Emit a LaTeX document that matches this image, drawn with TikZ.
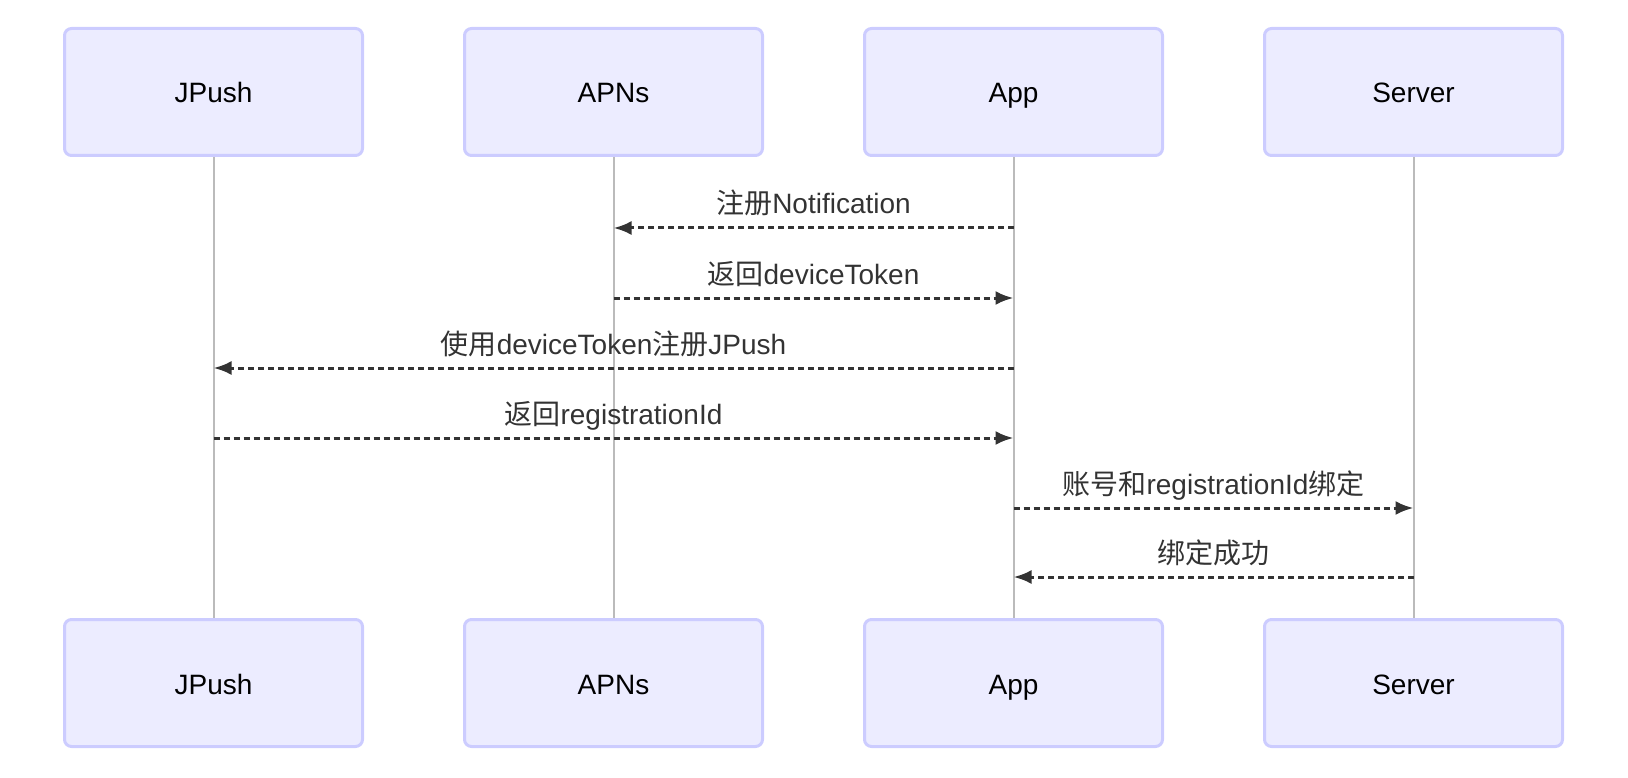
\documentclass[tikz,border=0pt]{standalone}
\usepackage{fontspec}
\setmainfont{Liberation Sans}
\newfontfamily\cjk{Noto Sans CJK SC}
\newcommand{\zh}[1]{{\cjk #1}}
\usetikzlibrary{arrows.meta,positioning}

\definecolor{actorfill}{HTML}{ECECFF}
\definecolor{actorline}{HTML}{CCCCFF}
\definecolor{lifegray}{HTML}{BBBBBB}
\definecolor{msggray}{HTML}{333333}

\tikzset{
  actor/.style={draw=actorline, fill=actorfill, line width=3pt, rounded corners=7pt,
    minimum width=298pt, minimum height=127pt, text height=22pt, text depth=0pt,
    font=\fontsize{28}{34}\selectfont},
  life/.style={draw=lifegray, line width=2pt},
  msg/.style={draw=msggray, line width=3pt, dash pattern=on 6pt off 4pt,
    -{Latex[length=18pt,width=14pt]}},
  lbl/.style={anchor=base, yshift=14pt, text=msggray, font=\fontsize{28}{34}\selectfont}
}

\begin{document}
\begin{tikzpicture}[x=1pt, y=1pt, node distance=400pt, on grid]
\useasboundingbox (0,0) rectangle (1628,-778);

\node[actor] (jpush_top) at (213.5,-92) {JPush};
\node[actor] (apns_top) [right=of jpush_top] {APNs};
\node[actor] (app_top) [right=of apns_top] {App};
\node[actor] (server_top) [right=of app_top] {Server};

\node[actor] (jpush_bot) [below=591pt of jpush_top] {JPush};
\node[actor] (apns_bot) [below=591pt of apns_top] {APNs};
\node[actor] (app_bot) [below=591pt of app_top] {App};
\node[actor] (server_bot) [below=591pt of server_top] {Server};

\foreach \a in {jpush,apns,app,server}
  \draw[life] (\a_top) -- (\a_bot);

% message rows
\coordinate (m1) at (0,-228);
\coordinate (m2) at (0,-298);
\coordinate (m3) at (0,-368);
\coordinate (m4) at (0,-438);
\coordinate (m5) at (0,-508);
\coordinate (m6) at (0,-577);

\draw[msg] (app_top |- m1) -- node[lbl] {\zh{注册}Notification} (apns_top |- m1);
\draw[msg] (apns_top |- m2) -- node[lbl] {\zh{返回}deviceToken} (app_top |- m2);
\draw[msg] (app_top |- m3) -- node[lbl] {\zh{使用}deviceToken\zh{注册}JPush} (jpush_top |- m3);
\draw[msg] (jpush_top |- m4) -- node[lbl] {\zh{返回}registrationId} (app_top |- m4);
\draw[msg] (app_top |- m5) -- node[lbl] {\zh{账号和}registrationId\zh{绑定}} (server_top |- m5);
\draw[msg] (server_top |- m6) -- node[lbl] {\zh{绑定成功}} (app_top |- m6);
\end{tikzpicture}
\end{document}
